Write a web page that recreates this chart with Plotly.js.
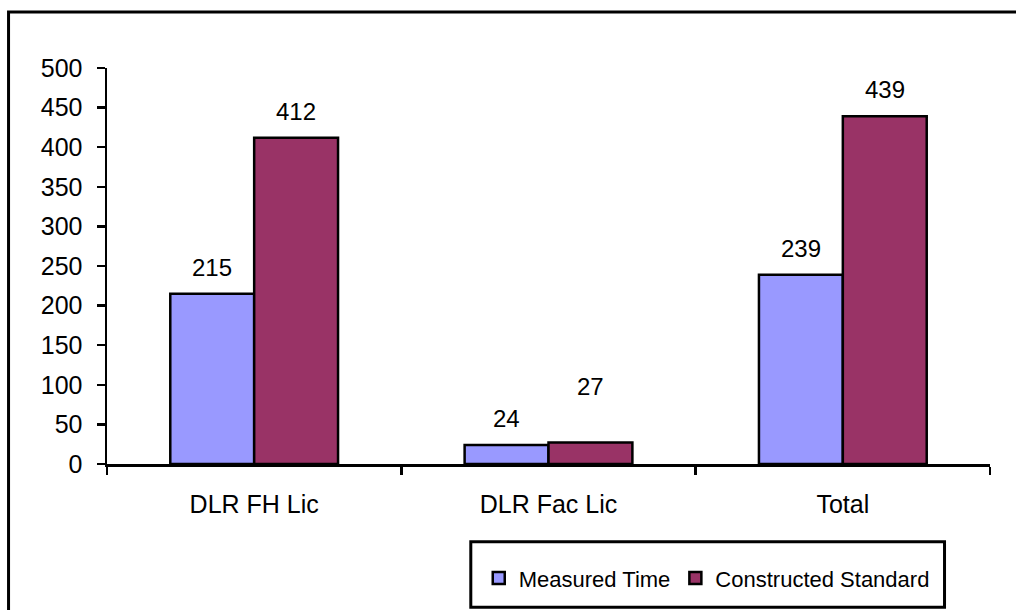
<!DOCTYPE html>
<html>
<head>
<meta charset="utf-8">
<script src="https://cdn.plot.ly/plotly-3.0.1.min.js"></script>
<style>
  html, body { margin: 0; padding: 0; background: #fff; }
  #chart { width: 1016px; height: 610px; }
</style>
</head>
<body>
<div id="chart"></div>
<script>
// Categories and series
const categories = ['DLR FH Lic', 'DLR Fac Lic', 'Total'];
const measuredTime = [215, 24, 239];
const constructedStandard = [412, 27, 439];
const seriesNames = ['Measured Time', 'Constructed Standard'];
const yTicks = [0, 50, 100, 150, 200, 250, 300, 350, 400, 450, 500];

const FONT = 'Arial, "Liberation Sans", sans-serif';
const BAR_GAP = 0.43;
const outline = { color: '#000', width: 2.5 };

const traces = [
  {
    type: 'bar', name: seriesNames[0], x: categories, y: measuredTime,
    marker: { color: '#9999FF', line: outline }
  },
  {
    type: 'bar', name: seriesNames[1], x: categories, y: constructedStandard,
    marker: { color: '#993366', line: outline }
  }
];

// Value labels sit above each bar; bar centres follow the group layout
const half = (1 - BAR_GAP) / 4;
const extraLift = [[0, 0, 0], [0, 30, 0]];
const annotations = [];
[measuredTime, constructedStandard].forEach((vals, s) => {
  vals.forEach((v, i) => {
    annotations.push({
      xref: 'x', yref: 'y', x: i + (s === 0 ? -half : half), y: v,
      text: String(v), showarrow: false, yanchor: 'bottom',
      yshift: 11 + extraLift[s][i],
      font: { family: FONT, size: 24, color: '#000' }
    });
  });
});

const layout = {
  width: 1016, height: 610,
  margin: { l: 107, r: 26, t: 68, b: 145 },
  paper_bgcolor: '#fff', plot_bgcolor: '#fff',
  barmode: 'group', bargap: BAR_GAP, bargroupgap: 0,
  showlegend: true,
  legend: {
    orientation: 'h', x: 0.421, y: -0.285, xanchor: 'left', yanchor: 'middle',
    font: { family: FONT, size: 22, color: '#000' },
    bgcolor: 'rgba(0,0,0,0)', borderwidth: 0, itemwidth: 30
  },
  xaxis: {
    type: 'category', showgrid: false, zeroline: false,
    showline: true, linecolor: '#000', linewidth: 2.5,
    ticks: 'outside', tickson: 'boundaries', ticklen: 8, tickwidth: 2.5, tickcolor: '#000',
    tickfont: { family: FONT, size: 25, color: '#000' },
    ticklabelstandoff: 16, fixedrange: true
  },
  yaxis: {
    range: [0, 500], tickvals: yTicks, showgrid: false, zeroline: false,
    showline: true, linecolor: '#000', linewidth: 2.5,
    ticks: 'outside', ticklen: 8, tickwidth: 2.5, tickcolor: '#000',
    tickfont: { family: FONT, size: 25, color: '#000' },
    ticklabelstandoff: 9, fixedrange: true
  },
  annotations: annotations,
  shapes: [
    // outer chart frame
    { type: 'rect', xref: 'paper', yref: 'paper', layer: 'below',
      x0: -0.1115, x1: 1.2, y0: -0.5, y1: 1.1415,
      line: { color: '#000', width: 3 } },
    // legend frame
    { type: 'rect', xref: 'paper', yref: 'paper', layer: 'above',
      x0: 0.412, x1: 0.9485, y0: -0.3615, y1: -0.1965,
      line: { color: '#000', width: 3 } }
  ]
};

Plotly.newPlot('chart', traces, layout, { displayModeBar: false, staticPlot: true });
</script>
</body>
</html>
